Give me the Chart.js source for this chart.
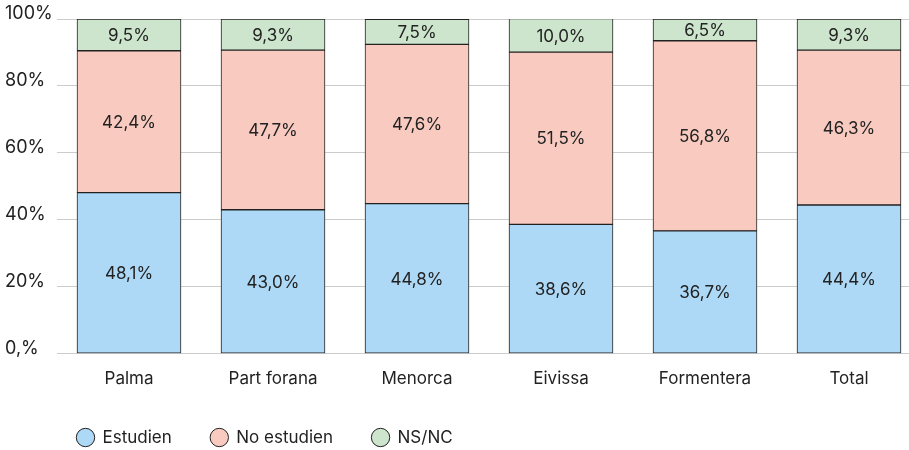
<!DOCTYPE html>
<html>
<head>
<meta charset="utf-8">
<script src="https://cdn.jsdelivr.net/npm/chart.js@4.4.1/dist/chart.umd.min.js"></script>
<style>
  html, body { margin: 0; padding: 0; background: #fff; overflow: hidden; }
  #wrap { width: 925px; height: 450px; }
</style>
</head>
<body>
<div id="wrap"><canvas id="chart"></canvas></div>
<script>
const categories = ["Palma", "Part forana", "Menorca", "Eivissa", "Formentera", "Total"];
const estudien = [48.1, 43.0, 44.8, 38.6, 36.7, 44.4];
const noEstudien = [42.4, 47.7, 47.6, 51.5, 56.8, 46.3];
const nsnc = [9.5, 9.3, 7.5, 10.0, 6.5, 9.3];
const yTickLabels = ["0,%", "20%", "40%", "60%", "80%", "100%"];

const FONT = "Inter, 'Noto Sans', sans-serif";
const TEXT = "#222";

// writes the value in the middle of each bar segment
const barLabels = {
  id: "barLabels",
  afterDatasetsDraw(chart) {
    const ctx = chart.ctx;
    ctx.save();
    ctx.font = "17px " + FONT;
    ctx.fillStyle = TEXT;
    ctx.textAlign = "center";
    ctx.textBaseline = "middle";
    chart.data.datasets.forEach((ds, i) => {
      chart.getDatasetMeta(i).data.forEach((bar, j) => {
        const txt = ds.data[j].toFixed(1).replace(".", ",") + "%";
        ctx.fillText(txt, bar.x, (bar.y + bar.base) / 2 + 1);
      });
    });
    ctx.restore();
  }
};

// nudge the legend so it starts under the first bar
const legendPlace = {
  id: "legendPlace",
  afterLayout(chart) {
    const lg = chart.legend;
    const dx = 38 - lg.left;
    lg.left += dx;
    lg.right += dx;
    lg.top -= 6;
    lg.bottom -= 6;
  }
};

const common = { borderColor: "#222", borderWidth: 1, borderSkipped: false, barThickness: 104 };

new Chart(document.getElementById("chart"), {
  type: "bar",
  data: {
    labels: categories,
    datasets: [
      { label: "Estudien", data: estudien, backgroundColor: "#add9f6", ...common },
      { label: "No estudien", data: noEstudien, backgroundColor: "#f9cbc0", ...common },
      { label: "NS/NC", data: nsnc, backgroundColor: "#cce5cc", ...common }
    ]
  },
  options: {
    responsive: true,
    maintainAspectRatio: false,
    animation: false,
    layout: { padding: { left: 5, top: 19, right: 4, bottom: -12 } },
    scales: {
      x: {
        stacked: true,
        grid: { display: false },
        border: { display: false },
        ticks: { color: TEXT, font: { family: FONT, size: 17 }, padding: 7 }
      },
      y: {
        stacked: true,
        min: 0,
        max: 100,
        afterFit(scale) { scale.width = 52; },
        grid: { color: "#cccccc", drawTicks: false },
        border: { display: false },
        ticks: {
          stepSize: 20,
          crossAlign: "far",
          labelOffset: -5,
          color: TEXT,
          font: { family: FONT, size: 18 },
          callback: (v, i) => yTickLabels[i]
        }
      }
    },
    plugins: {
      legend: {
        position: "bottom",
        align: "start",
        fullSize: false,
        labels: {
          usePointStyle: true,
          pointStyle: "circle",
          boxHeight: 13,
          padding: 39,
          color: TEXT,
          font: { family: FONT, size: 17 }
        }
      },
      tooltip: { enabled: false }
    }
  },
  plugins: [barLabels, legendPlace]
});
</script>
</body>
</html>
